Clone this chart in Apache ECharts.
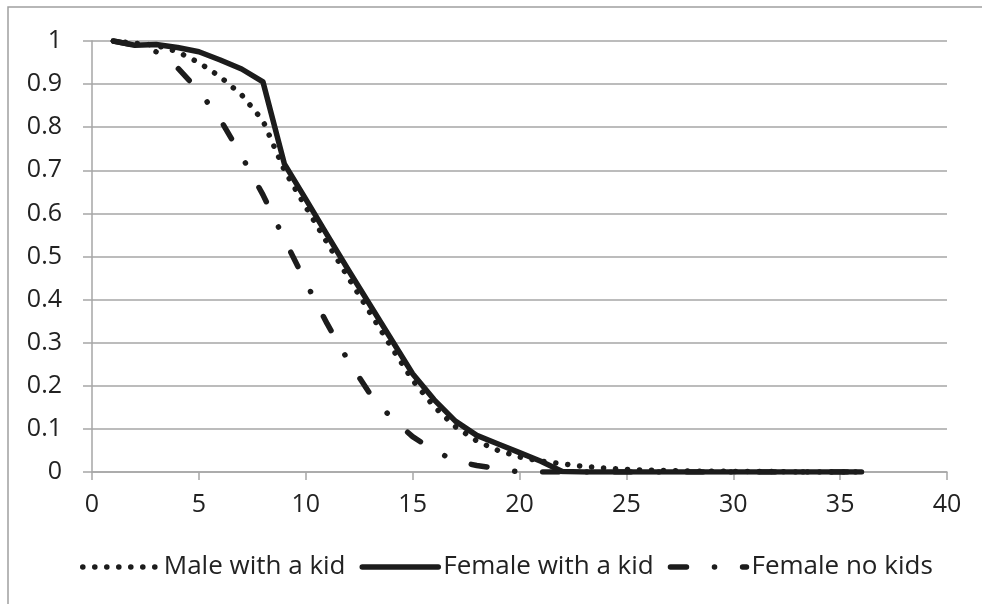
<!DOCTYPE html>
<html style="height: 100%">
<head>
<meta charset="utf-8">
</head>
<body style="height: 100%; margin: 0; background: #fff">
<div id="container" style="width: 982px; height: 604px"></div>
<script type="text/javascript" src="https://cdn.jsdelivr.net/npm/echarts@6/dist/echarts.min.js"></script>
<script type="text/javascript">
var xValues = [];
for (var n = 1; n <= 36; n++) xValues.push(n);

var seriesNames = ['Male with a kid', 'Female with a kid', 'Female no kids'];

var maleWithKid = [1.0, 0.995, 0.99, 0.975, 0.95, 0.917, 0.875, 0.815, 0.70, 0.615,
    0.532, 0.45, 0.37, 0.29, 0.213, 0.152, 0.105, 0.072, 0.05, 0.035,
    0.025, 0.019, 0.013, 0.009, 0.006, 0.004, 0.003, 0.002, 0.002, 0.001,
    0.001, 0.001, 0, 0, 0, 0];

var femaleWithKid = [1.0, 0.99, 0.992, 0.985, 0.975, 0.956, 0.935, 0.905, 0.715, 0.633,
    0.55, 0.468, 0.388, 0.308, 0.228, 0.168, 0.118, 0.085, 0.065, 0.045,
    0.025, 0.001, 0, 0, 0, 0, 0, 0, 0, 0,
    0, 0, 0, 0, 0, 0];

var femaleNoKids = [1.0, 0.99, 0.975, 0.938, 0.884, 0.818, 0.733, 0.643, 0.54, 0.44,
    0.344, 0.257, 0.182, 0.126, 0.082, 0.05, 0.026, 0.015, 0.008, 0,
    0, 0, 0, 0, 0, 0, 0, 0, 0, 0,
    0, 0, 0, 0, 0, 0];

function pairs(ys) {
    return xValues.map(function (x, i) { return [x, ys[i]]; });
}

var dom = document.getElementById('container');
var myChart = echarts.init(dom);

var ink = '#1c1c1c';
var gridGray = '#a6a6a6';
var font = 'Open Sans';

function lineSeries(name, ys, dash) {
    return {
        name: name,
        type: 'line',
        data: pairs(ys),
        symbol: 'none',
        animation: false,
        lineStyle: {
            color: ink,
            width: 5.5,
            type: dash,
            cap: 'round',
            join: 'round'
        },
        itemStyle: { color: ink }
    };
}

var option = {
    backgroundColor: '#fff',
    animation: false,
    textStyle: { fontFamily: font },
    graphic: [{
        type: 'rect',
        shape: { x: 8, y: 7, width: 1200, height: 1200 },
        style: { fill: 'none', stroke: '#a0a0a0', lineWidth: 1.5 },
        silent: true
    }],
    grid: {
        left: 92,
        right: 35,
        top: 41,
        bottom: 132
    },
    xAxis: {
        type: 'value',
        min: 0,
        max: 40,
        interval: 5,
        axisLine: { show: true, lineStyle: { color: gridGray, width: 1.5 } },
        axisTick: { show: true, length: 8, lineStyle: { color: gridGray, width: 1.5 } },
        splitLine: { show: false },
        axisLabel: { color: '#222', fontSize: 25, fontFamily: font, margin: 20 }
    },
    yAxis: {
        type: 'value',
        min: 0,
        max: 1,
        interval: 0.1,
        axisLine: { show: true, lineStyle: { color: gridGray, width: 1.5 } },
        axisTick: { show: true, length: 9, lineStyle: { color: gridGray, width: 1.5 } },
        splitLine: { show: true, lineStyle: { color: gridGray, width: 1.5 } },
        axisLabel: { color: '#222', fontSize: 25, fontFamily: font, margin: 30 }
    },
    legend: {
        data: seriesNames,
        left: 75,
        top: 549,
        itemWidth: 76,
        itemHeight: 24,
        itemGap: 14,
        textStyle: { color: '#222', fontSize: 26, fontFamily: font },
        lineStyle: { width: 5.5 },
        itemStyle: { color: 'rgba(0,0,0,0)', borderWidth: 0 }
    },
    series: [
        lineSeries(seriesNames[0], maleWithKid, [0.1, 11.9]),
        lineSeries(seriesNames[1], femaleWithKid, 'solid'),
        lineSeries(seriesNames[2], femaleNoKids, [16, 28, 0.1, 28])
    ]
};

myChart.setOption(option);
</script>
</body>
</html>
